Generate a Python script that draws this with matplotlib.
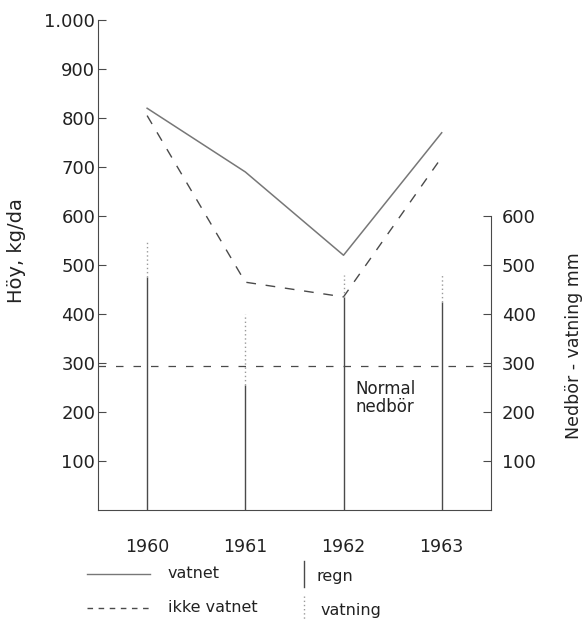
import numpy as np
import matplotlib.pyplot as plt
from matplotlib.lines import Line2D

# hay yield, kg/da
years = [1960, 1961, 1962, 1963]
vatnet = [820, 690, 520, 770]
ikke_vatnet = [805, 465, 435, 720]

# precipitation and irrigation, mm
regn = [475, 255, 435, 425]
vatning = [75, 145, 45, 55]
normal_nedbor = 293

left_ticks = [100, 200, 300, 400, 500, 600, 700, 800, 900, 1000]
left_labels = ["100", "200", "300", "400", "500", "600", "700", "800", "900", "1.000"]
right_ticks = [100, 200, 300, 400, 500, 600]

ink = "#4a4a4a"
txt = "#222222"
plt.rcParams["font.family"] = ["DejaVu Sans"]

fig = plt.figure(figsize=(5.88, 6.21), dpi=100)
ax = fig.add_axes([0.1667, 0.1787, 0.668, 0.789])
ax.set_xlim(1959.5, 1963.5)
ax.set_ylim(0, 1000)

# yield lines
ax.plot(years, vatnet, color="#777777", lw=1.1, ls="-")
ax.plot(years, ikke_vatnet, color=ink, lw=1.0, ls=(0, (7, 7)))

# rain bars with irrigation on top
top = np.array(regn) + np.array(vatning)
ax.vlines(years, 0, regn, color=ink, lw=1.0)
ax.vlines(years, regn, top, color="#9a9a9a", lw=1.0, ls=(0, (1, 2)))

# normal precipitation
ax.plot([1959.5, 1963.5], [normal_nedbor, normal_nedbor], color=ink, lw=0.9,
        ls=(0, (6, 8)))
ax.text(1962.12, 266, "Normal\nnedbör", fontsize=12, color=txt,
        ha="left", va="top", linespacing=1.05)

for s in ["top", "right"]:
    ax.spines[s].set_visible(False)
ax.spines["left"].set_color(ink)
ax.spines["bottom"].set_color(ink)
ax.spines["left"].set_bounds(0, 1000)

ax.set_yticks(left_ticks)
ax.set_yticklabels(left_labels)
ax.tick_params(axis="y", direction="in", length=6, color=ink, labelsize=13,
               labelcolor=txt, pad=2)
ax.set_xticks(years)
ax.set_xticklabels([str(y) for y in years])
ax.tick_params(axis="x", length=0, pad=20, labelsize=12.5, labelcolor=txt)
ax.set_ylabel("Höy, kg/da", fontsize=14, color=txt, labelpad=13, y=0.53)

# right axis for precipitation, same mm scale
ax2 = ax.twinx()
ax2.set_ylim(0, 1000)
for s in ["top", "left", "bottom"]:
    ax2.spines[s].set_visible(False)
ax2.spines["right"].set_bounds(0, 600)
ax2.spines["right"].set_color(ink)
ax2.set_yticks(right_ticks)
ax2.tick_params(axis="y", direction="in", length=6, color=ink, labelsize=13,
                labelcolor=txt, pad=8)
ax2.set_ylabel("Nedbör - vatning mm", fontsize=12.5, color=txt,
               labelpad=21, y=0.335)

# legend under the chart
fig.add_artist(Line2D([87 / 588, 150 / 588], [1 - 574 / 621] * 2, color="#777777",
                      lw=1.0, transform=fig.transFigure))
fig.add_artist(Line2D([87 / 588, 150 / 588], [1 - 608 / 621] * 2, color=ink,
                      lw=1.0, ls=(0, (4, 4)), transform=fig.transFigure))
fig.add_artist(Line2D([304 / 588] * 2, [1 - 561 / 621, 1 - 587 / 621], color=ink,
                      lw=1.0, transform=fig.transFigure))
fig.add_artist(Line2D([304 / 588] * 2, [1 - 596 / 621, 1 - 621 / 621], color="#9a9a9a",
                      lw=1.0, ls=(0, (1, 2)), transform=fig.transFigure))
fig.text(168 / 588, 1 - 574 / 621, "vatnet", fontsize=11.5, va="center", color=txt)
fig.text(168 / 588, 1 - 608 / 621, "ikke vatnet", fontsize=11.5, va="center", color=txt)
fig.text(316 / 588, 1 - 576 / 621, "regn", fontsize=11.5, va="center", color=txt)
fig.text(321 / 588, 1 - 610 / 621, "vatning", fontsize=11.5, va="center", color=txt)

fig.savefig("out.png", dpi=100)
